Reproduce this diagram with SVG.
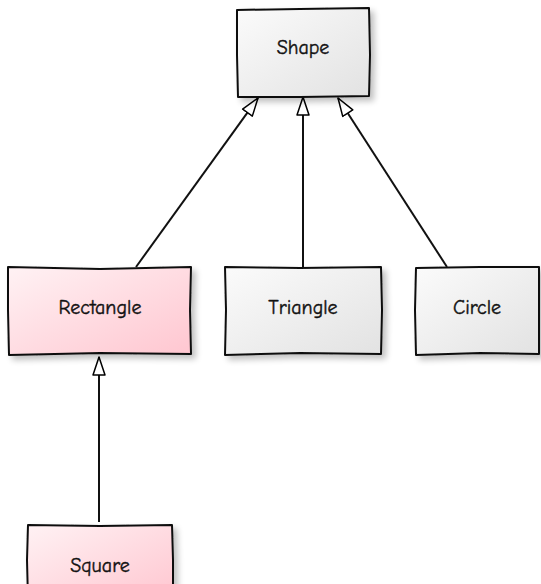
<svg xmlns="http://www.w3.org/2000/svg" width="541" height="584" viewBox="0 0 541 584">
<defs>
<linearGradient id="gGray" x1="0" y1="0" x2="1" y2="1">
<stop offset="0" stop-color="#fbfbfb"/><stop offset="1" stop-color="#e2e2e2"/>
</linearGradient>
<linearGradient id="gPink" x1="0" y1="0" x2="1" y2="1">
<stop offset="0" stop-color="#fff2f4"/><stop offset="1" stop-color="#ffc6d0"/>
</linearGradient>
<filter id="sh" x="-10%" y="-10%" width="130%" height="130%">
<feGaussianBlur in="SourceAlpha" stdDeviation="3"/>
<feOffset dx="4" dy="4" result="b"/>
<feComponentTransfer><feFuncA type="linear" slope="0.25"/></feComponentTransfer>
<feMerge><feMergeNode/><feMergeNode in="SourceGraphic"/></feMerge>
</filter>
<marker id="tri" viewBox="0 0 20 14" refX="19" refY="7" markerWidth="20" markerHeight="14" orient="auto" markerUnits="userSpaceOnUse">
<path d="M1,1 L19,7 L1,13 Z" fill="#fff" stroke="#000" stroke-width="1.5" stroke-linejoin="round"/>
</marker>
</defs>
<style>
.box{stroke:#111;stroke-width:2;stroke-linejoin:round;filter:url(#sh)}
.gray{fill:url(#gGray)}
.pink{fill:url(#gPink)}
.lbl{font-family:"Comic Neue","DejaVu Sans",sans-serif;font-size:20px;fill:#111;stroke:#111;stroke-width:0.4;text-anchor:middle}
.edge{stroke:#111;stroke-width:2;fill:none}
</style>
<g id="connectors">
<path class="edge" d="M136,267 L258,98" marker-end="url(#tri)"/>
<path class="edge" d="M303,267 L303,97" marker-end="url(#tri)"/>
<path class="edge" d="M447,267 L338,98" marker-end="url(#tri)"/>
<path class="edge" d="M99,522 L99,357" marker-end="url(#tri)"/>
</g>
<g id="Shape">
<path class="box gray" d="M237,10 L300,9 L369,8 L370,55 L369,96 L300,97 L238,97 L237,55 Z"/>
<text class="lbl" x="303" y="54">Shape</text>
</g>
<g id="Rectangle">
<path class="box pink" d="M8,267 L100,269 L191,267 L190,310 L191,354 L100,353 L9,355 L8,310 Z"/>
<text class="lbl" x="100" y="314">Rectangle</text>
</g>
<g id="Triangle">
<path class="box gray" d="M225,267 L300,268 L381,267 L382,310 L381,354 L300,353 L225,355 L226,310 Z"/>
<text class="lbl" x="303" y="314">Triangle</text>
</g>
<g id="Circle">
<path class="box gray" d="M416,268 L480,267 L539,267 L539,310 L539,354 L480,353 L416,355 L415,310 Z"/>
<text class="lbl" x="477" y="314">Circle</text>
</g>
<g id="Square">
<path class="box pink" d="M28,525 L100,526 L172,525 L173,560 L173,600 L28,600 L27,560 Z"/>
<text class="lbl" x="100" y="572">Square</text>
</g>
</svg>
